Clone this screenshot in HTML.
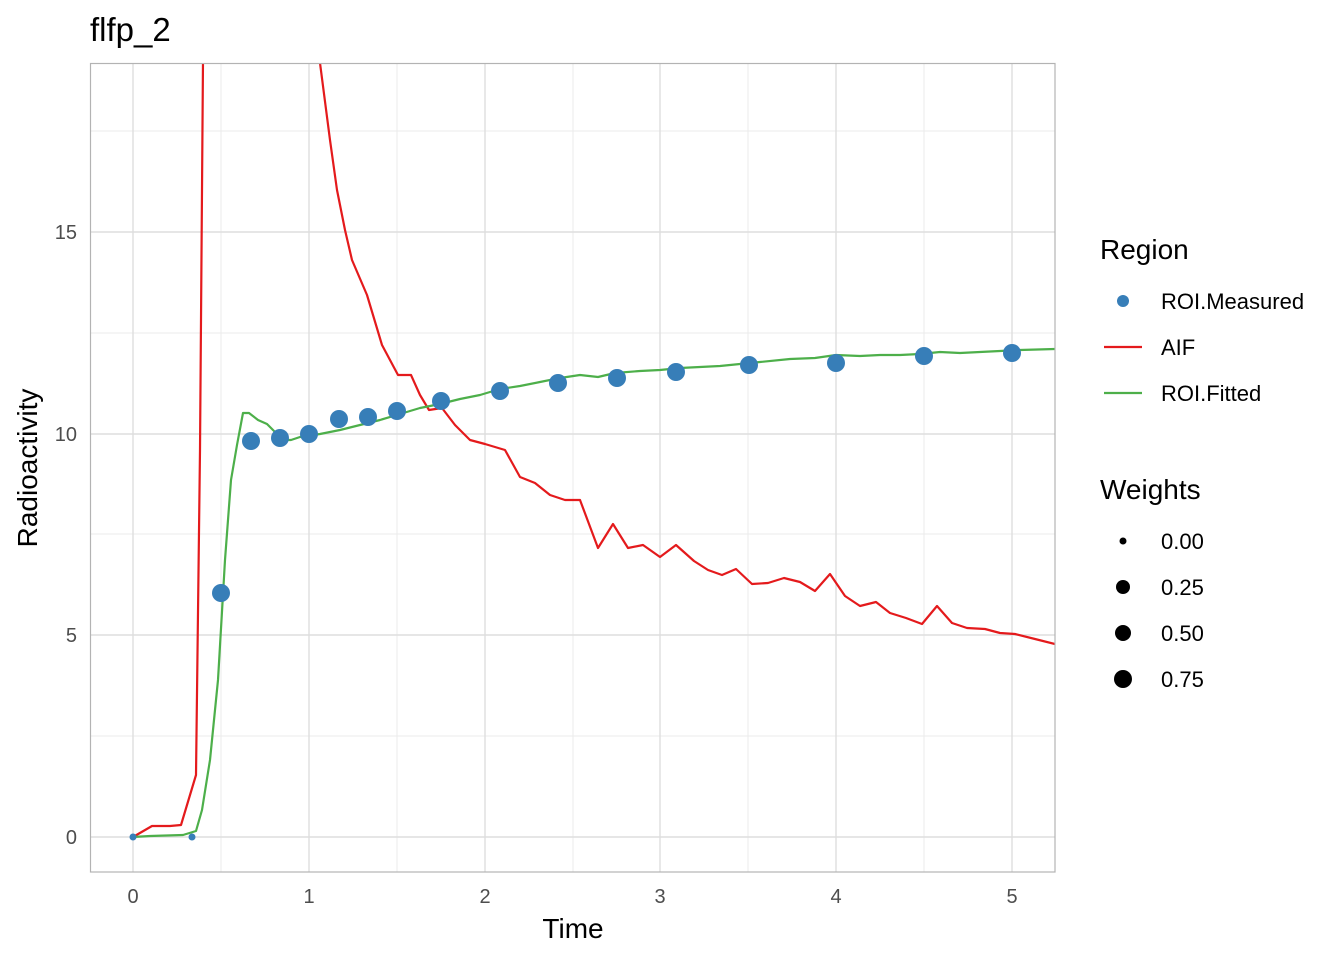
<!DOCTYPE html>
<html><head><style>body{margin:0;background:#fff}</style></head><body>
<svg width="1344" height="960" xmlns="http://www.w3.org/2000/svg" font-family="Liberation Sans, sans-serif">
<rect width="1344" height="960" fill="#fff"/>
<g stroke="#ebebeb" stroke-width="1">
<line x1="90" x2="1055" y1="736" y2="736"/><line x1="90" x2="1055" y1="534" y2="534"/><line x1="90" x2="1055" y1="333" y2="333"/><line x1="90" x2="1055" y1="131" y2="131"/>
<line x1="221" x2="221" y1="63" y2="872"/><line x1="397" x2="397" y1="63" y2="872"/><line x1="573" x2="573" y1="63" y2="872"/><line x1="748" x2="748" y1="63" y2="872"/><line x1="924" x2="924" y1="63" y2="872"/>
</g>
<g stroke="#dedede" stroke-width="1.4">
<line x1="90" x2="1055" y1="837" y2="837"/><line x1="90" x2="1055" y1="635" y2="635"/><line x1="90" x2="1055" y1="434" y2="434"/><line x1="90" x2="1055" y1="232" y2="232"/>
<line x1="133" x2="133" y1="63" y2="872"/><line x1="309" x2="309" y1="63" y2="872"/><line x1="485" x2="485" y1="63" y2="872"/><line x1="660" x2="660" y1="63" y2="872"/><line x1="836" x2="836" y1="63" y2="872"/><line x1="1012" x2="1012" y1="63" y2="872"/>
</g>
<svg x="90" y="63" width="965" height="809" overflow="hidden">
<g transform="translate(-90,-63)">
<polyline fill="none" stroke="#e41a1c" stroke-width="2.2" stroke-linejoin="round" points="133,837 152,826 170,826 181,825 196,775 200,450 205,-200 316,-200 320,63 330,140 337,190 345,230 352,260 367,295 382,345 398,375 411,375 420,395 429,410 442,408 455,425 470,440 485,444 505,450 520,477 535,483 550,495 565,500 580,500 598,548 613,524 628,548 643,545 660,557 676,545 694,561 708,570 722,575 736,569 752,584 768,583 784,578 800,582 815,591 830,574 845,596 860,606 876,602 890,613 906,618 922,624 937,606 952,623 967,628 985,629 1000,633 1015,634 1035,639 1055,644"/>
<polyline fill="none" stroke="#4daf4a" stroke-width="2.2" stroke-linejoin="round" points="133,837 150,836 183,835 196,831 202,810 210,760 218,680 225,560 231,480 237,445 243,413 249,413 258,420 267,424 275,432 283,440 291,440 300,437 320,434 340,430 360,425 380,420 400,414 420,408 440,404 460,399 480,395 500,389 520,386 540,382 560,378 580,375 598,377 615,373 640,371 660,370 680,368 700,367 720,366 740,364 760,362 790,359 815,358 836,355 860,356 880,355 900,355 920,354 940,352 960,353 980,352 1000,351 1020,350 1055,349"/>
</g></svg>
<g fill="#377eb8">
<circle cx="133" cy="837" r="3.5"/><circle cx="192" cy="837" r="3.5"/>
<circle cx="221" cy="593" r="9"/><circle cx="251" cy="441" r="9"/><circle cx="280" cy="438" r="9"/><circle cx="309" cy="434" r="9"/><circle cx="339" cy="419" r="9"/><circle cx="368" cy="417" r="9"/><circle cx="397" cy="411" r="9"/><circle cx="441" cy="401" r="9"/><circle cx="500" cy="391" r="9"/><circle cx="558" cy="383" r="9"/><circle cx="617" cy="378" r="9"/><circle cx="676" cy="372" r="9"/><circle cx="749" cy="365" r="9"/><circle cx="836" cy="363" r="9"/><circle cx="924" cy="356" r="9"/><circle cx="1012" cy="353" r="9"/>
</g>
<rect x="90.5" y="63.5" width="964.5" height="808.5" fill="none" stroke="#b3b3b3" stroke-width="1.2"/>
<g font-size="20" fill="#4d4d4d" text-anchor="middle">
<text x="133" y="903">0</text><text x="309" y="903">1</text><text x="485" y="903">2</text><text x="660" y="903">3</text><text x="836" y="903">4</text><text x="1012" y="903">5</text>
</g>
<g font-size="20" fill="#4d4d4d" text-anchor="end">
<text x="77" y="844">0</text><text x="77" y="642">5</text><text x="77" y="441">10</text><text x="77" y="239">15</text>
</g>
<text x="573" y="938" font-size="28" text-anchor="middle">Time</text>
<text transform="translate(37,468) rotate(-90)" font-size="28" text-anchor="middle">Radioactivity</text>
<text x="90" y="41" font-size="33">flfp_2</text>
<text x="1100" y="259" font-size="28">Region</text>
<circle cx="1123" cy="301" r="6" fill="#377eb8"/>
<line x1="1104" x2="1142" y1="347" y2="347" stroke="#e41a1c" stroke-width="2.2"/>
<line x1="1104" x2="1142" y1="393" y2="393" stroke="#4daf4a" stroke-width="2.2"/>
<g font-size="22"><text x="1161" y="309">ROI.Measured</text><text x="1161" y="355">AIF</text><text x="1161" y="401">ROI.Fitted</text></g>
<text x="1100" y="499" font-size="28">Weights</text>
<circle cx="1123" cy="541" r="3.5"/><circle cx="1123" cy="587" r="7"/><circle cx="1123" cy="633" r="8"/><circle cx="1123" cy="679" r="9"/>
<g font-size="22"><text x="1161" y="549">0.00</text><text x="1161" y="595">0.25</text><text x="1161" y="641">0.50</text><text x="1161" y="687">0.75</text></g>
</svg>
</body></html>
